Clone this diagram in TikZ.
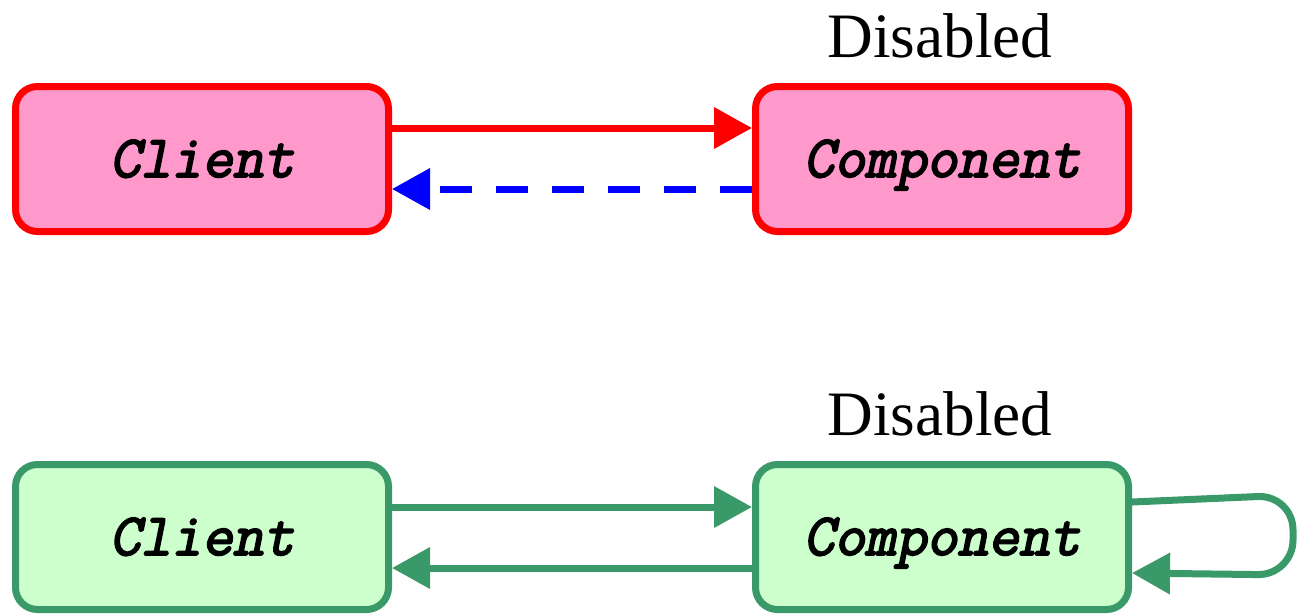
\documentclass[tikz,border=0pt]{standalone}
\usepackage{fontspec}
\setmainfont{Liberation Serif}
\newfontfamily\boxfont[FakeBold=3, FakeSlant=0.2]{Latin Modern Mono}
\usepackage{tikz}
\usetikzlibrary{arrows.meta, positioning, calc}
\definecolor{myred}{RGB}{255,0,0}
\definecolor{mypink}{RGB}{255,153,204}
\definecolor{myblue}{RGB}{0,0,255}
\definecolor{mygreen}{RGB}{58,153,104}
\definecolor{mylime}{RGB}{204,255,204}
\tikzset{
  compbox/.style={rectangle, rounded corners=0.22cm, line width=0.07cm,
    minimum width=3.73cm, minimum height=1.45cm,
    text height=0.46cm, text depth=0.10cm,
    font=\fontsize{17}{20}\selectfont\boxfont},
  redbox/.style={compbox, draw=myred, fill=mypink},
  greenbox/.style={compbox, draw=mygreen, fill=mylime},
  tip/.style={-{Triangle[length=0.38cm, width=0.4cm]}, line width=0.07cm},
  redarrow/.style={tip, color=myred},
  bluearrow/.style={tip, color=myblue, dash pattern=on 0.32cm off 0.24cm},
  greenarrow/.style={tip, color=mygreen},
  title/.style={anchor=base, font=\fontsize{18}{22}\selectfont}
}
\begin{document}
\begin{tikzpicture}
  \useasboundingbox (0,0) rectangle (13,-6.15);

  % Top row: disabled
  \node[redbox] (client1) at (2.02,-1.59) {Client};
  \node[redbox] (comp1) at (9.42,-1.59) {Component};
  \node[title] (title1) at (9.40,-0.57) {Disabled};

  \draw[redarrow] ([yshift=0.31cm]client1.east) -- ([yshift=0.31cm]comp1.west);
  \draw[bluearrow] ([yshift=-0.30cm]comp1.west) -- ([yshift=-0.30cm]client1.east);

  % Bottom row
  \node[greenbox] (client2) at (2.02,-5.37) {Client};
  \node[greenbox] (comp2) at (9.42,-5.37) {Component};
  \node[title] (title2) at (9.40,-4.35) {Disabled};

  \draw[greenarrow] ([yshift=0.30cm]client2.east) -- ([yshift=0.30cm]comp2.west);
  \draw[greenarrow] ([yshift=-0.31cm]comp2.west) -- ([yshift=-0.31cm]client2.east);

  % Self loop
  \coordinate (looptop) at (12.93,-4.95);
  \coordinate (loopbot) at (12.93,-5.75);
  \draw[greenarrow, rounded corners=0.35cm] ([yshift=0.35cm]comp2.east) -- (looptop)
    -- (loopbot) -- ([yshift=-0.36cm]comp2.east);
\end{tikzpicture}
\end{document}
